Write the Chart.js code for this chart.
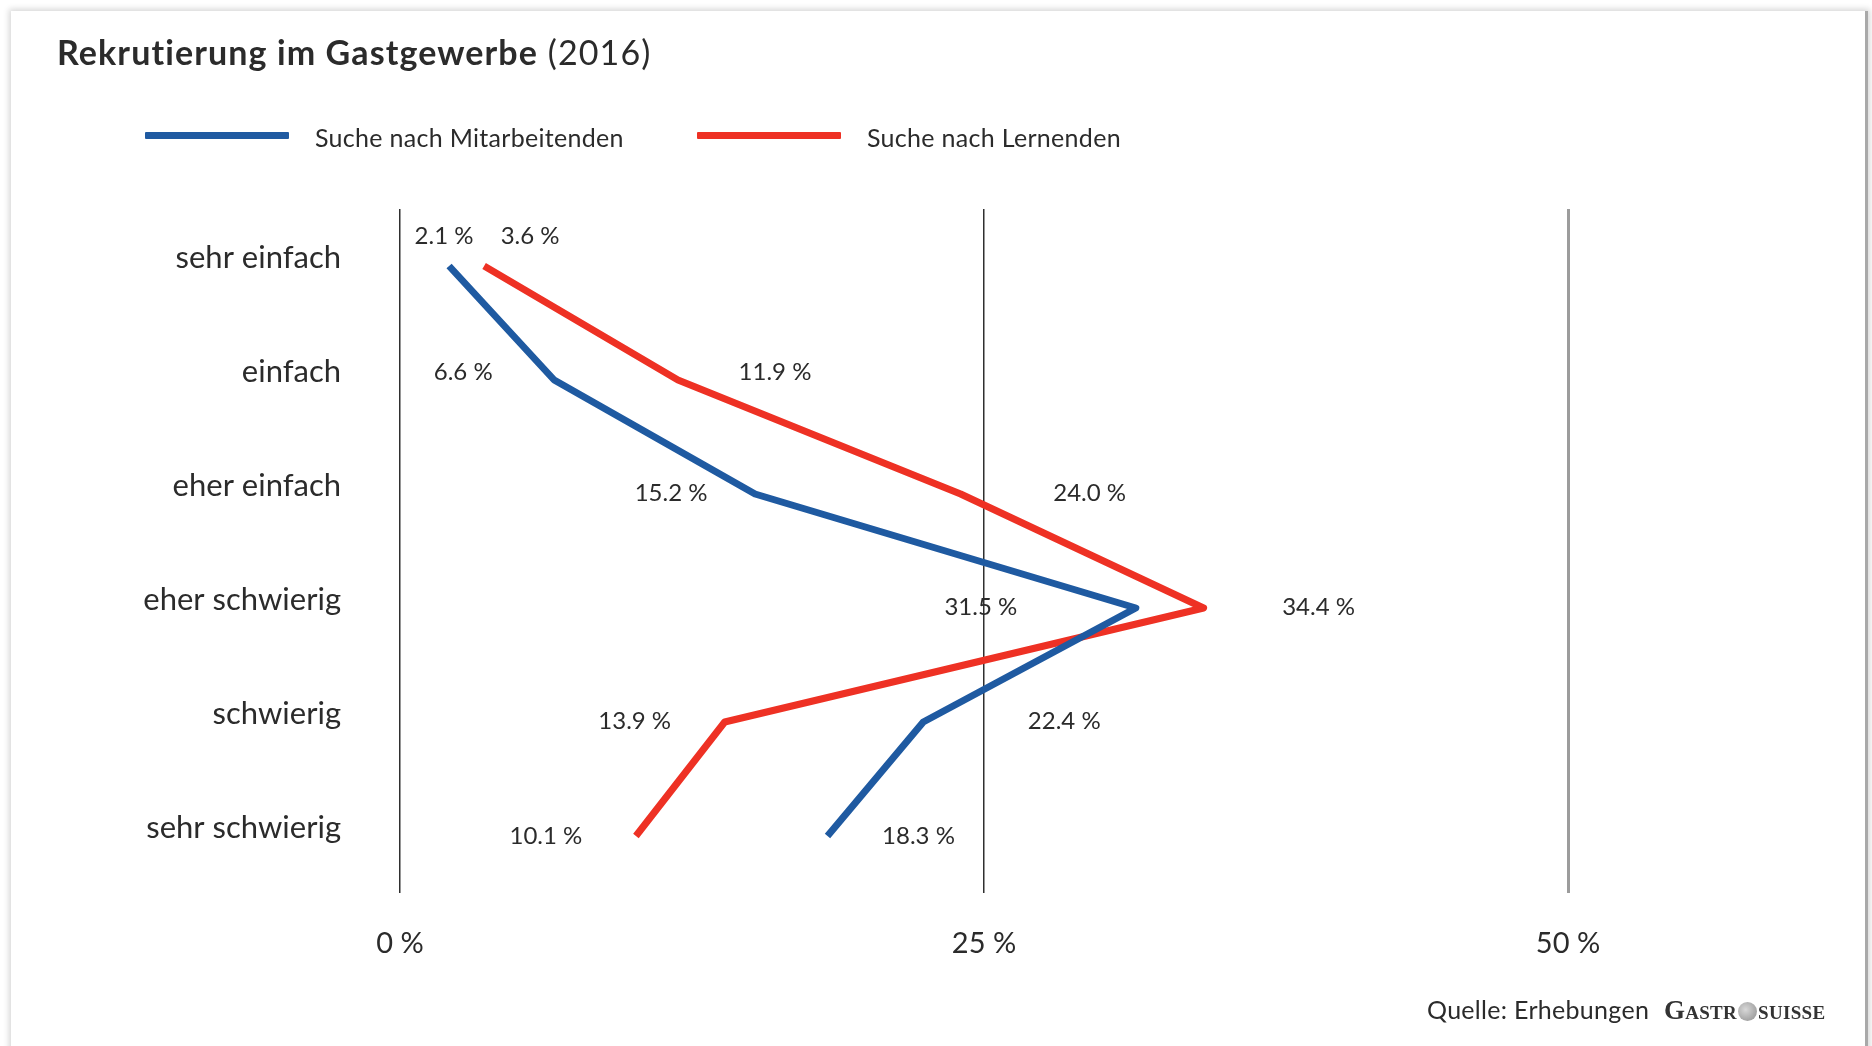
<!DOCTYPE html>
<html lang="de">
<head>
<meta charset="utf-8">
<title>Rekrutierung im Gastgewerbe (2016)</title>
<script src="https://cdn.jsdelivr.net/npm/chart.js@4.4.1/dist/chart.umd.min.js"></script>
<style>
  html, body { margin: 0; padding: 0; background: #fff; }
  body { width: 1872px; height: 1046px; position: relative; overflow: hidden; font-family: Lato, "Open Sans", sans-serif; color: #2b2b2b; }
  .frame {
    position: absolute; left: 11px; top: 11px; width: 1854px; height: 1060px;
    border-right: 3px solid #a9a9a9; background: #fff;
    box-shadow: 0 0 6px 2px rgba(0,0,0,0.16);
  }
  #chart { position: absolute; left: 0; top: 0; }
  .title { position: absolute; left: 57px; top: 32px; font-size: 34px; line-height: 40px; letter-spacing: 1.1px; white-space: nowrap; }
  .title b { font-weight: 700; }
  .legend { position: absolute; top: 122px; font-size: 25px; line-height: 30px; letter-spacing: 0.3px; white-space: nowrap; }
  .legend .swatch { position: absolute; top: 10px; height: 7px; width: 144px; border-radius: 1px; }
  .legend span.txt { position: absolute; top: 0; }
  .source { position: absolute; left: 1427px; top: 994px; font-size: 25px; line-height: 30px; letter-spacing: 0.3px; white-space: nowrap; }
  .logo { font-family: "Liberation Serif", "DejaVu Serif", serif; font-weight: 700; font-size: 27px; font-variant: small-caps; letter-spacing: 0.3px; color: #333; margin-left: 8px; }
  .globe { display: inline-block; width: 19px; height: 19px; border-radius: 50%; background: radial-gradient(circle at 40% 40%, #d8d8d8, #8d8d8d); vertical-align: -2px; margin: 0 1px; }
</style>
</head>
<body>
<div class="frame"></div>
<canvas id="chart" width="1872" height="1046"></canvas>
<div class="title"><b>Rekrutierung im Gastgewerbe</b> (2016)</div>
<div class="legend" id="legend"></div>
<div class="source">Quelle: Erhebungen <span class="logo">Gastr<span class="globe"></span>suisse</span></div>

<script>
// ============================================================
// DATA
// ============================================================
const categories = ['sehr einfach', 'einfach', 'eher einfach', 'eher schwierig', 'schwierig', 'sehr schwierig'];
const seriesNames = ['Suche nach Mitarbeitenden', 'Suche nach Lernenden'];
const mitarbeitende = [2.1, 6.6, 15.2, 31.5, 22.4, 18.3];
const lernende = [3.6, 11.9, 24.0, 34.4, 13.9, 10.1];
const xTicks = [0, 25, 50];

const COLORS = {
  blue: '#1f5aa1',
  red: '#ee3124',
  text: '#2b2b2b',
  grid: '#2f2f2f',
  gridLight: '#9c9c9c'
};

// label placement next to each point (pixels, relative to the point)
const labelShift = {
  blue: { dx: [-5, -91, -84, -155, 141, 91], dy: [-30, -8, -1, -1, -1, 0] },
  red: { dx: [46, 97, 129, 115, -90, -90], dy: [-30, -8, -1, -1, -1, 0] }
};

// ============================================================
// LEGEND (html)
// ============================================================
function renderLegend() {
  const el = document.getElementById('legend');
  const items = [
    { label: seriesNames[0], color: COLORS.blue, lineX: 145, textX: 315 },
    { label: seriesNames[1], color: COLORS.red, lineX: 697, textX: 867 }
  ];
  el.innerHTML = items.map(it => `
    <div class="swatch" style="left:${it.lineX}px;background:${it.color}"></div>
    <span class="txt" style="left:${it.textX}px">${it.label}</span>
  `).join('');
}

// ============================================================
// VALUE LABELS plugin
// ============================================================
const valueLabels = {
  id: 'valueLabels',
  afterDatasetsDraw(chart) {
    const ctx = chart.ctx;
    ctx.save();
    ctx.font = '24px Lato, "Open Sans", sans-serif';
    ctx.fillStyle = COLORS.text;
    ctx.textAlign = 'center';
    ctx.textBaseline = 'middle';
    chart.data.datasets.forEach((ds, i) => {
      const shift = labelShift[ds.key];
      chart.getDatasetMeta(i).data.forEach((pt, j) => {
        const txt = ds.data[j].toFixed(1) + ' %';
        ctx.fillText(txt, pt.x + shift.dx[j], pt.y + shift.dy[j]);
      });
    });
    ctx.restore();
  }
};

// ============================================================
// CHART
// ============================================================
function drawChart() {
  const ctx = document.getElementById('chart');
  new Chart(ctx, {
    type: 'line',
    data: {
      labels: categories,
      datasets: [
        {
          key: 'blue',
          label: seriesNames[0],
          data: mitarbeitende,
          borderColor: COLORS.blue,
          backgroundColor: COLORS.blue,
          borderWidth: 7,
          borderJoinStyle: 'round',
          pointRadius: 0,
          tension: 0
        },
        {
          key: 'red',
          label: seriesNames[1],
          data: lernende,
          borderColor: COLORS.red,
          backgroundColor: COLORS.red,
          borderWidth: 7,
          borderJoinStyle: 'round',
          pointRadius: 0,
          tension: 0
        }
      ]
    },
    options: {
      indexAxis: 'y',
      responsive: false,
      animation: false,
      layout: { padding: { left: 0, top: 209, right: 304, bottom: 0 } },
      plugins: {
        legend: { display: false },
        tooltip: { enabled: false }
      },
      scales: {
        x: {
          type: 'linear',
          position: 'bottom',
          min: 0,
          max: 50,
          z: 1,
          afterBuildTicks: scale => { scale.ticks = xTicks.map(v => ({ value: v })); },
          afterFit: scale => { scale.height = 153; },
          border: { display: false },
          grid: {
            drawTicks: false,
            color: c => c.tick && c.tick.value === 50 ? COLORS.gridLight : COLORS.grid,
            lineWidth: c => c.tick && c.tick.value === 50 ? 3 : 1.5
          },
          ticks: {
            padding: 33,
            color: COLORS.text,
            font: { family: 'Lato', size: 29 },
            callback: v => v + ' %'
          }
        },
        y: {
          type: 'category',
          offset: true,
          afterFit: scale => { scale.width = 400; },
          border: { display: false },
          grid: { display: false, drawTicks: false },
          ticks: {
            padding: 59,
            labelOffset: -8,
            color: COLORS.text,
            font: { family: 'Lato', size: 31 }
          }
        }
      }
    },
    plugins: [valueLabels]
  });
}

document.addEventListener('DOMContentLoaded', () => {
  renderLegend();
  drawChart();
});
</script>
</body>
</html>
